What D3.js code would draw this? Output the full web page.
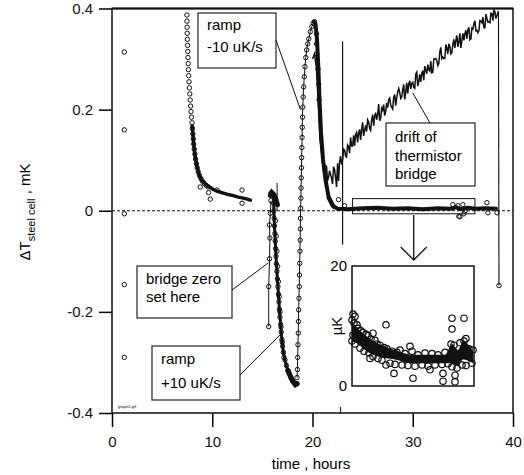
<!DOCTYPE html>
<html>
<head>
<meta charset="utf-8">
<script src="https://cdn.jsdelivr.net/npm/d3@7"></script>
<style>
  body { margin: 0; background: #fff; }
  svg { display: block; font-family: "Liberation Sans", Arial, sans-serif; }
</style>
</head>
<body>
<div id="viz"></div>
<script>
const WIDTH = 524, HEIGHT = 475;

// axis ticks (hours, mK)
const xTicks = [0, 10, 20, 30, 40];
const yTicks = [-0.4, -0.2, 0, 0.2, 0.4];

// [hours, mK]
const earlyPoints = [[1.23, 0.314], [1.23, 0.16], [1.23, -0.006], [1.23, -0.146], [1.23, -0.29]];

const decayPoints = [
  [7.47, 0.387], [7.48, 0.375], [7.49, 0.363], [7.5, 0.351], [7.52, 0.339], [7.54, 0.327],
  [7.56, 0.315], [7.58, 0.303], [7.6, 0.291], [7.62, 0.279], [7.65, 0.267], [7.68, 0.255],
  [7.72, 0.243], [7.76, 0.231], [7.8, 0.219], [7.84, 0.207], [7.88, 0.196], [7.93, 0.185],
  [7.98, 0.174], [8.02, 0.163], [8.07, 0.152], [8.11, 0.142], [8.15, 0.132], [8.2, 0.122],
  [8.27, 0.112], [8.34, 0.102], [8.42, 0.093], [8.5, 0.085], [8.6, 0.077], [8.72, 0.07],
  [8.86, 0.064], [9.0, 0.059], [9.2, 0.054], [9.4, 0.05], [9.6, 0.047],
  [8.8, 0.047], [9.63, 0.036], [9.8, 0.023], [10.47, 0.041], [12.97, 0.041], [12.97, 0.015]
];
const decayTrace = [
  [8.0, 0.168], [8.15, 0.132], [8.3, 0.106], [8.5, 0.085], [8.7, 0.07], [9.0, 0.059], [9.5, 0.05],
  [10.1, 0.042], [10.6, 0.038], [11.1, 0.035], [11.6, 0.032], [12.1, 0.03], [12.6, 0.027],
  [13.1, 0.025], [13.5, 0.023], [13.8, 0.021]
];

const zeroSetPoints = [[15.63, -0.229], [15.63, -0.15], [15.72, -0.095], [15.75, -0.054], [15.7, -0.028], [15.8, -0.005], [15.85, 0.02]];
const clusterTrace = [[15.8, 0.03], [15.95, 0.036], [16.15, 0.032], [16.35, 0.022], [16.5, 0.012]];
const rampDownPoints = [
  [15.85, 0.035], [16.0, 0.033], [16.1, 0.03], [16.13, 0.015], [16.15, 0.0], [16.18, -0.015], [16.2, -0.03],
  [16.25, -0.045], [16.28, -0.06], [16.32, -0.075], [16.36, -0.09], [16.4, -0.105], [16.45, -0.12],
  [16.5, -0.135], [16.55, -0.15], [16.6, -0.165], [16.65, -0.18], [16.7, -0.195], [16.75, -0.21],
  [16.82, -0.225], [16.88, -0.24], [16.95, -0.255], [17.02, -0.268], [17.1, -0.28], [17.25, -0.295],
  [17.4, -0.306], [17.55, -0.316], [17.7, -0.323], [17.85, -0.33], [18.0, -0.336], [18.15, -0.34],
  [18.3, -0.344], [18.45, -0.342]
];
const rampDownExtra = [
  [16.3, -0.02], [16.38, -0.05], [16.45, -0.08], [16.52, -0.11], [16.6, -0.14], [16.68, -0.17],
  [16.76, -0.2], [16.86, -0.23], [16.98, -0.26], [17.15, -0.29]
];
const rampUpPoints = [
  [18.45, -0.33], [18.5, -0.314], [18.52, -0.29], [18.55, -0.265], [18.58, -0.242], [18.6, -0.219],
  [18.62, -0.196], [18.65, -0.173], [18.68, -0.15], [18.7, -0.127], [18.72, -0.104], [18.75, -0.08],
  [18.77, -0.058], [18.79, -0.036], [18.8, -0.015], [18.82, 0.005], [18.84, 0.025], [18.86, 0.045],
  [18.88, 0.065], [18.9, 0.085], [18.92, 0.105], [18.94, 0.125], [18.96, 0.145], [18.98, 0.165],
  [19.0, 0.185], [19.03, 0.205], [19.07, 0.225], [19.12, 0.245], [19.18, 0.265], [19.25, 0.285],
  [19.33, 0.303], [19.42, 0.318], [19.52, 0.33], [19.63, 0.34], [19.78, 0.354], [19.93, 0.364],
  [20.07, 0.371], [20.2, 0.374]
];
const peakFallTrace = [
  [20.15, 0.374], [20.3, 0.37], [20.45, 0.338], [20.58, 0.285], [20.7, 0.219], [20.85, 0.154],
  [21.05, 0.101], [21.3, 0.061], [21.6, 0.028], [22.1, 0.008]
];
const peakFallPoints = [[20.4, 0.35], [20.4, 0.33], [20.42, 0.31], [20.55, 0.28], [20.62, 0.25], [20.65, 0.22]];

const flatTrace = [
  [21.6, 0.026], [22.0, 0.01], [22.5, 0.004], [23.5, 0.003], [25, 0.005], [26.5, 0.006], [28, 0.004],
  [29.5, 0.005], [31, 0.003], [32.5, 0.005], [33.8, 0.004], [34.3, 0.007], [34.8, 0.003], [35.5, 0.006],
  [36.3, 0.004], [37.2, 0.005], [38.3, 0.004]
];
const flatPoints = [
  [22.6, 0.022], [23.2, 0.01], [34.0, 0.012], [34.5, 0.01], [35.0, 0.012], [34.7, -0.012],
  [35.1, -0.006], [34.6, -0.011], [35.2, -0.001], [37.4, 0.016], [37.5, -0.004], [38.4, -0.004]
];

const driftTrace = [
  [20.0, 0.30], [20.2, 0.31], [20.4, 0.28], [20.6, 0.2], [20.75, 0.14], [20.9, 0.115],
  [21.0, 0.096], [21.1, 0.078], [21.2, 0.073], [21.3, 0.089], [21.4, 0.088], [21.5, 0.059],
  [21.6, 0.066], [21.7, 0.079], [21.8, 0.072], [21.9, 0.064], [22.0, 0.053], [22.1, 0.087],
  [22.2, 0.082], [22.3, 0.066], [22.4, 0.047], [22.5, 0.094], [22.6, 0.059], [22.7, 0.097],
  [22.8, 0.108], [22.9, 0.091], [23.0, 0.100], [23.1, 0.122], [23.2, 0.120], [23.3, 0.108],
  [23.4, 0.106], [23.5, 0.130], [23.6, 0.127], [23.7, 0.114], [23.8, 0.145], [23.9, 0.128],
  [24.0, 0.128], [24.1, 0.149], [24.2, 0.128], [24.3, 0.151], [24.4, 0.155], [24.5, 0.135],
  [24.6, 0.153], [24.7, 0.161], [24.8, 0.140], [24.9, 0.161], [25.0, 0.175], [25.1, 0.148],
  [25.2, 0.159], [25.3, 0.169], [25.4, 0.157], [25.5, 0.180], [25.6, 0.176], [25.7, 0.163],
  [25.8, 0.159], [25.9, 0.180], [26.0, 0.190], [26.1, 0.168], [26.2, 0.187], [26.3, 0.194],
  [26.4, 0.180], [26.5, 0.190], [26.6, 0.211], [26.7, 0.178], [26.8, 0.183], [26.9, 0.203],
  [27.0, 0.199], [27.1, 0.210], [27.2, 0.188], [27.3, 0.196], [27.4, 0.213], [27.5, 0.204],
  [27.6, 0.220], [27.7, 0.223], [27.8, 0.209], [27.9, 0.205], [28.0, 0.201], [28.1, 0.225],
  [28.2, 0.230], [28.3, 0.208], [28.4, 0.223], [28.5, 0.235], [28.6, 0.242], [28.7, 0.234],
  [28.8, 0.222], [28.9, 0.225], [29.0, 0.239], [29.1, 0.250], [29.2, 0.220], [29.3, 0.234],
  [29.4, 0.253], [29.5, 0.232], [29.6, 0.251], [29.7, 0.257], [29.8, 0.241], [29.9, 0.252],
  [30.0, 0.254], [30.1, 0.244], [30.2, 0.242], [30.3, 0.270], [30.4, 0.274], [30.5, 0.247],
  [30.6, 0.256], [30.7, 0.270], [30.8, 0.255], [30.9, 0.272], [31.0, 0.277], [31.1, 0.258],
  [31.2, 0.286], [31.3, 0.278], [31.4, 0.271], [31.5, 0.289], [31.6, 0.279], [31.7, 0.276],
  [31.8, 0.296], [31.9, 0.273], [32.0, 0.274], [32.1, 0.300], [32.2, 0.300], [32.3, 0.301],
  [32.4, 0.297], [32.5, 0.287], [32.6, 0.291], [32.7, 0.314], [32.8, 0.323], [32.9, 0.301],
  [33.0, 0.304], [33.1, 0.301], [33.2, 0.301], [33.3, 0.329], [33.4, 0.322], [33.5, 0.310],
  [33.6, 0.330], [33.7, 0.325], [33.8, 0.310], [33.9, 0.313], [34.0, 0.329], [34.1, 0.339],
  [34.2, 0.322], [34.3, 0.337], [34.4, 0.347], [34.5, 0.324], [34.6, 0.333], [34.7, 0.351],
  [34.8, 0.322], [34.9, 0.337], [35.0, 0.351], [35.1, 0.337], [35.2, 0.350], [35.3, 0.357],
  [35.4, 0.340], [35.5, 0.358], [35.6, 0.363], [35.7, 0.338], [35.8, 0.340], [35.9, 0.361],
  [36.0, 0.359], [36.1, 0.370], [36.2, 0.376], [36.3, 0.356], [36.4, 0.357], [36.5, 0.352],
  [36.6, 0.356], [36.7, 0.376], [36.8, 0.375], [36.9, 0.372], [37.0, 0.383], [37.1, 0.362],
  [37.2, 0.362], [37.3, 0.389], [37.4, 0.380], [37.5, 0.373], [37.6, 0.374], [37.7, 0.372],
  [37.8, 0.391], [37.9, 0.390], [38.0, 0.376], [38.1, 0.398], [38.2, 0.393], [38.3, 0.380],
  [38.4, 0.386], [38.55, 0.395]
];
const dropLine = [[38.55, 0.395], [38.6, -0.148]];
const dropPoint = [[38.6, -0.148]];
const markerLine23 = [[23.0, 0.335], [23.0, -0.067]];
const markerLine16 = [[16.47, 0.055], [16.47, 0.0]];

// inset: hours, µK
const insetTicks = [0, 20];
const insetHours = [24.0, 24.6, 25.3, 26.6, 28.3, 30.0, 31.6, 33.3, 34.0, 34.6, 35.1, 36.1];
const insetUpper = [10.6, 9.6, 8.5, 7.1, 6.0, 5.2, 5.2, 5.2, 7.0, 6.0, 7.5, 5.8];
const insetLower = [7.6, 7.0, 6.0, 4.9, 4.4, 3.8, 3.8, 3.8, 3.8, 3.3, 4.4, 3.8];
const insetPoints = [
  [24.0, 11.0], [24.1, 12.0], [24.2, 10.5], [24.3, 11.6], [24.1, 8.5], [24.0, 7.5], [24.3, 7.0],
  [24.5, 10.2], [24.6, 9.6], [24.8, 6.3], [24.9, 9.2], [25.1, 8.9], [25.2, 5.8], [25.4, 8.6],
  [25.6, 8.4], [25.7, 5.5], [25.9, 7.8], [26.1, 4.9], [26.3, 7.6], [26.5, 7.0], [26.6, 4.6],
  [26.8, 6.8], [27.0, 4.3], [27.2, 6.4], [27.5, 6.2], [27.8, 3.8], [28.0, 5.8], [28.3, 3.6],
  [28.5, 5.6], [28.8, 6.0], [29.0, 3.5], [29.3, 5.4], [29.6, 3.4], [30.0, 5.8], [30.3, 3.3],
  [30.6, 5.2], [31.0, 3.5], [31.3, 5.5], [31.6, 3.3], [32.0, 5.4], [32.3, 3.5], [32.6, 5.2],
  [33.0, 3.6], [33.3, 5.6], [33.6, 3.7], [33.9, 7.0], [34.0, 3.2], [34.2, 6.8], [34.5, 3.0],
  [34.8, 7.2], [35.0, 3.5], [35.2, 7.5], [35.4, 3.4], [35.7, 6.2], [36.0, 3.8], [36.1, 6.0],
  [26.1, 8.8], [27.4, 10.2], [25.8, 4.6], [27.4, 3.5], [28.2, 2.1], [29.8, 6.6], [30.1, 1.3],
  [31.8, 2.7], [33.1, 2.1], [33.1, 0.8], [34.3, 1.8], [34.3, 0.7], [34.0, 11.3], [35.2, 11.3],
  [34.0, 9.5], [35.4, 7.9]
];

const svg = d3.select("#viz").append("svg")
  .attr("width", WIDTH)
  .attr("height", HEIGHT);

const x = d3.scaleLinear().domain([0, 40]).range([112, 513]);
const y = d3.scaleLinear().domain([-0.4, 0.4]).range([413, 8.5]);

const line = d3.line().x(d => x(d[0])).y(d => y(d[1]));

// axes
svg.append("g")
  .attr("transform", `translate(${x(0)},0)`)
  .call(d3.axisLeft(y).tickValues(yTicks).tickSize(13).tickPadding(6)
    .tickFormat(d => d === 0 ? "0" : d.toFixed(1)))
  .call(g => g.select(".domain").remove())
  .call(g => g.selectAll("line").attr("stroke-width", 1.5))
  .call(g => g.selectAll("text").style("font-size", "15px").attr("fill", "#111"));

svg.append("g")
  .attr("transform", `translate(0,${y(-0.4)})`)
  .call(d3.axisBottom(x).tickValues(xTicks).tickSize(14).tickPadding(9).tickFormat(d3.format("d")))
  .call(g => g.select(".domain").remove())
  .call(g => g.selectAll("line").attr("stroke-width", 1.5))
  .call(g => g.selectAll("text").style("font-size", "15px").attr("fill", "#111"));

// frame
svg.append("rect")
  .attr("x", x(0)).attr("y", y(0.4))
  .attr("width", x(40) - x(0)).attr("height", y(-0.4) - y(0.4))
  .attr("fill", "none").attr("stroke", "#111").attr("stroke-width", 1.5);
svg.append("line")
  .attr("x1", x(0)).attr("x2", x(40)).attr("y1", y(0.4)).attr("y2", y(0.4))
  .attr("stroke", "#111").attr("stroke-width", 2.2);

// zero line
svg.append("line")
  .attr("x1", x(0)).attr("x2", x(40)).attr("y1", y(0)).attr("y2", y(0))
  .attr("stroke", "#111").attr("stroke-width", 1).attr("stroke-dasharray", "3,2");

// small mark on the bottom axis
svg.append("line")
  .attr("x1", x(22.8)).attr("x2", x(22.8)).attr("y1", y(-0.4)).attr("y2", y(-0.4) - 6)
  .attr("stroke", "#111").attr("stroke-width", 1);

svg.append("text")
  .attr("x", 118).attr("y", 408)
  .style("font-size", "4px")
  .text("graph2.grf");

// axis titles
svg.append("text")
  .attr("x", 311).attr("y", 469)
  .attr("text-anchor", "middle")
  .style("font-size", "15px")
  .text("time , hours");

const yTitle = svg.append("text")
  .attr("transform", "translate(30,212) rotate(-90)")
  .attr("text-anchor", "middle")
  .style("font-size", "15px");
yTitle.append("tspan").text("\u0394T");
yTitle.append("tspan").attr("dy", 5).style("font-size", "11px").text("steel cell");
yTitle.append("tspan").attr("dy", -5).text(" , mK");

// traces
const traces = svg.append("g").attr("fill", "none").attr("stroke", "#111");

traces.append("path").attr("d", line(driftTrace)).attr("stroke-width", 1.5).attr("stroke-linejoin", "miter");
traces.append("path").attr("d", line(dropLine)).attr("stroke-width", 1.1);
traces.append("path").attr("d", line(markerLine23)).attr("stroke-width", 1.2);
traces.append("path").attr("d", line(markerLine16)).attr("stroke-width", 1);
traces.append("path").attr("d", line(zeroSetPoints)).attr("stroke-width", 1);
traces.append("path").attr("d", line(decayTrace)).attr("stroke-width", 3.5).attr("stroke-linecap", "round");
traces.append("path").attr("d", line(clusterTrace)).attr("stroke-width", 5).attr("stroke-linecap", "round");
traces.append("path").attr("d", line(rampDownPoints)).attr("stroke-width", 3);
traces.append("path").attr("d", line(rampDownPoints.slice(26))).attr("stroke-width", 5).attr("stroke-linecap", "round");
traces.append("path").attr("d", line(rampUpPoints)).attr("stroke-width", 1);
traces.append("path").attr("d", line(peakFallTrace)).attr("stroke-width", 4).attr("stroke-linecap", "round");
traces.append("path").attr("d", line(flatTrace)).attr("stroke-width", 4).attr("stroke-linecap", "round");

// open circles
const circleSets = [earlyPoints, decayPoints, zeroSetPoints, rampDownPoints, rampDownExtra, rampUpPoints, peakFallPoints, flatPoints, dropPoint];
svg.append("g")
  .attr("fill", "none").attr("stroke", "#111").attr("stroke-width", 1)
  .selectAll("circle")
  .data(circleSets.flat())
  .join("circle")
  .attr("cx", d => x(d[0]))
  .attr("cy", d => y(d[1]))
  .attr("r", 2.2);

// frame around the data shown in the inset
svg.append("rect")
  .attr("x", x(24)).attr("y", y(0.024))
  .attr("width", x(36.2) - x(24)).attr("height", y(-0.006) - y(0.024))
  .attr("fill", "none").attr("stroke", "#111").attr("stroke-width", 1);

// arrow down to the inset
const ax = x(30.1);
svg.append("path")
  .attr("d", `M${ax},215 L${ax},260 M${ax - 13},247 L${ax},260 L${ax + 13},247`)
  .attr("fill", "none").attr("stroke", "#111").attr("stroke-width", 1.3);

// inset
const ix = d3.scaleLinear().domain([24, 36.2]).range([352, 474]);
const iy = d3.scaleLinear().domain([0, 20]).range([386, 266]);

svg.append("rect")
  .attr("x", ix(24)).attr("y", iy(20))
  .attr("width", ix(36.2) - ix(24)).attr("height", iy(0) - iy(20))
  .attr("fill", "#fff").attr("stroke", "#111").attr("stroke-width", 1.5);

svg.append("g")
  .selectAll("text")
  .data(insetTicks)
  .join("text")
  .attr("x", ix(24) - 5)
  .attr("y", d => iy(d))
  .attr("dy", "0.35em")
  .attr("text-anchor", "end")
  .style("font-size", "15px")
  .text(d => d);

svg.append("text")
  .attr("transform", `translate(342,${iy(10)}) rotate(-90)`)
  .attr("text-anchor", "middle")
  .style("font-size", "15px")
  .text("\u00b5K");

const band = insetHours.map((h, i) => [h, insetLower[i], insetUpper[i]]);
svg.append("path")
  .attr("d", d3.area().x(d => ix(d[0])).y0(d => iy(d[1])).y1(d => iy(d[2])).curve(d3.curveMonotoneX)(band))
  .attr("fill", "#111");

svg.append("g")
  .attr("fill", "none").attr("stroke", "#111").attr("stroke-width", 1.2)
  .selectAll("circle")
  .data(insetPoints)
  .join("circle")
  .attr("cx", d => ix(d[0]))
  .attr("cy", d => iy(d[1]))
  .attr("r", 3.2);

// annotation boxes with leader lines
const notes = [
  {box: [198, 13, 78, 55], lines: ["ramp", "-10 uK/s"], base: [30, 52], from: [276, 40], to: [18.8, 0.2]},
  {box: [386, 123, 89, 63], lines: ["drift of", "thermistor", "bridge"], base: [142, 161, 179], from: [430, 123], to: [30.0, 0.233]},
  {box: [137, 266, 95, 52], lines: ["bridge zero", "set here"], base: [284, 302], from: [232, 290], to: [15.6, -0.103]},
  {box: [152, 346, 88, 54], lines: ["ramp", "+10 uK/s"], base: [364, 388], from: [240, 375], to: [16.8, -0.245]}
];

const ann = svg.append("g");
notes.forEach(n => {
  ann.append("line")
    .attr("x1", n.from[0]).attr("y1", n.from[1])
    .attr("x2", x(n.to[0])).attr("y2", y(n.to[1]))
    .attr("stroke", "#111").attr("stroke-width", 1);
  ann.append("rect")
    .attr("x", n.box[0]).attr("y", n.box[1])
    .attr("width", n.box[2]).attr("height", n.box[3])
    .attr("fill", "#fff").attr("stroke", "#111").attr("stroke-width", 1.1);
  n.lines.forEach((t, i) => {
    ann.append("text")
      .attr("x", n.box[0] + 9).attr("y", n.base[i])
      .style("font-size", "15px")
      .text(t);
  });
});
</script>
</body>
</html>
